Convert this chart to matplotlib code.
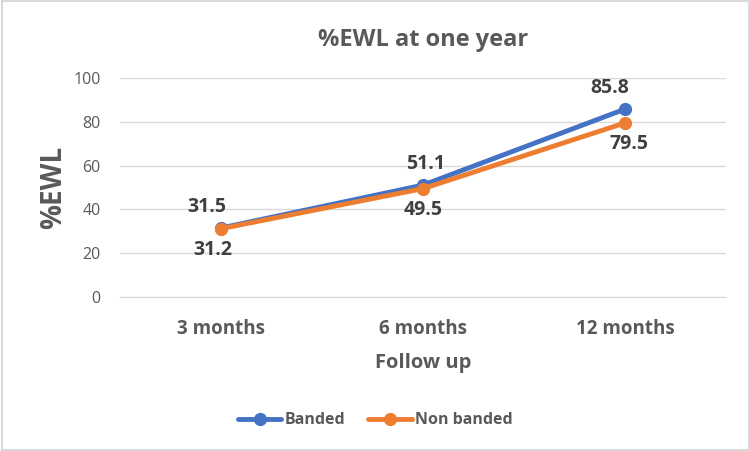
import matplotlib.pyplot as plt
from matplotlib.patches import Rectangle

plt.rcParams['font.family'] = ['Open Sans', 'DejaVu Sans']

categories = ['3 months', '6 months', '12 months']
banded = [31.5, 51.1, 85.8]
non_banded = [31.2, 49.5, 79.5]
y_ticks = [0, 20, 40, 60, 80, 100]

blue = '#4472C4'
orange = '#ED7D31'
gray = '#595959'

fig = plt.figure(figsize=(7.5, 4.51), dpi=100)
ax = fig.add_axes([0.16, 0.3415, 0.808, 0.4855])

x = list(range(len(categories)))
ax.plot(x, banded, color=blue, lw=3.5, marker='o', ms=8.5, label='Banded',
        solid_capstyle='round', zorder=3)
ax.plot(x, non_banded, color=orange, lw=3.5, marker='o', ms=8.5, label='Non banded',
        solid_capstyle='round', zorder=4)

# data labels: banded above, non banded below (excel nudges them a bit left)
dx_top = [-10, 2, -11]
dx_bot = [-6, 0, 3]
for xi, v, d in zip(x, banded, dx_top):
    ax.annotate(f'{v}', (xi, v), xytext=(d, 8), textcoords='offset points',
                ha='center', va='bottom', fontsize=14, fontweight='bold', color='#404040')
for xi, v, d in zip(x, non_banded, dx_bot):
    ax.annotate(f'{v}', (xi, v), xytext=(d, -8), textcoords='offset points',
                ha='center', va='top', fontsize=14, fontweight='bold', color='#404040')

ax.set_xlim(-0.5, len(categories) - 0.5)
ax.set_ylim(0, 100)
ax.set_yticks(y_ticks)
ax.set_xticks(x)
ax.set_xticklabels(categories, fontsize=13.5, fontweight='bold', color=gray)
ax.tick_params(axis='y', labelsize=11.5, labelcolor=gray, length=0, pad=14)
ax.tick_params(axis='x', length=0, pad=16)
ax.grid(axis='y', color='#D9D9D9', lw=1)
ax.set_axisbelow(True)
for s in ['top', 'right', 'left']:
    ax.spines[s].set_visible(False)
ax.spines['bottom'].set_color('#D9D9D9')

ax.set_xlabel('Follow up', fontsize=14.5, fontweight='bold', color=gray, labelpad=10)
ax.set_ylabel('%EWL', fontsize=20, fontweight='bold', color=gray, labelpad=4)
ax.set_title('%EWL at one year', fontsize=17, fontweight='bold', color=gray, pad=23)

leg = fig.legend(loc='center', bbox_to_anchor=(0.5, 0.068), ncol=2, frameon=False,
                 prop={'size': 11.5, 'weight': 'bold'}, handlelength=2.75, columnspacing=1.4,
                 handletextpad=0.2)
for t in leg.get_texts():
    t.set_color(gray)

fig.patches.append(Rectangle((0.002, 0.003), 0.996, 0.994, transform=fig.transFigure,
                             fill=False, edgecolor='#D9D9D9', lw=1.5))

fig.savefig('out.png', dpi=100)
